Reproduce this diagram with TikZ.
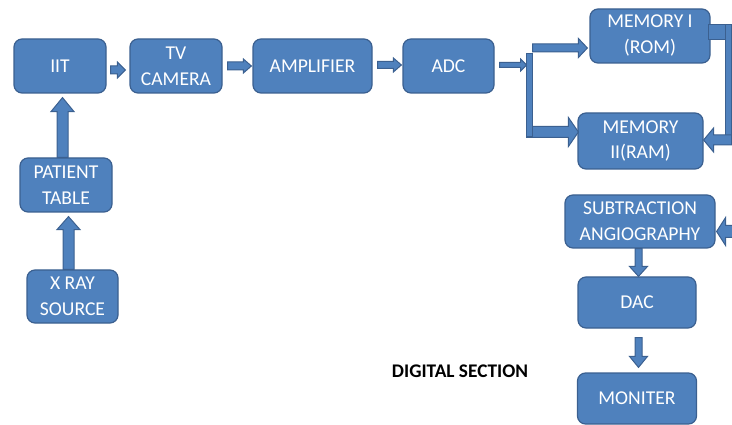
\documentclass[tikz,border=0pt]{standalone}
\usepackage{fontspec}
\setmainfont{Carlito}
\usetikzlibrary{calc}
\definecolor{boxfill}{HTML}{4F81BD}
\definecolor{boxline}{HTML}{3B6090}
\tikzset{
  box/.style={draw=boxline, fill=boxfill, line width=1.2pt, rounded corners=8pt,
    text=white, align=center, inner sep=0pt, font=\fontsize{19.6}{26}\selectfont},
  barrow/.style={draw=boxline, fill=boxfill, line width=1pt, line join=miter},
  caption/.style={font=\bfseries\fontsize{19.3}{22}\selectfont, text=black}
}
% block arrow: #1 tail, #2 tip, #3 half shaft width, #4 half head width, #5 head length
\newcommand\blockarrow[5]{%
  \coordinate (ba-base) at ($(#2)!#5!(#1)$);
  \filldraw[barrow] ($(#1)!#3!90:(#2)$) -- ($(ba-base)!#3!90:(#2)$)
    -- ($(ba-base)!#4!90:(#2)$) -- (#2) -- ($(ba-base)!#4!-90:(#2)$)
    -- ($(ba-base)!#3!-90:(#2)$) -- ($(#1)!#3!-90:(#2)$) -- cycle;
}
\begin{document}
\begin{tikzpicture}[x=1pt, y=-1pt]
\useasboundingbox (0,0) rectangle (732,425);

% blocks
\node[box, minimum width=92pt,  minimum height=54pt] (iit)  at (60,66)      {IIT};
\node[box, minimum width=92pt,  minimum height=54pt] (tv)   at (176,66)     {TV\\CAMERA};
\node[box, minimum width=119pt, minimum height=54pt] (amp)  at (312.5,66)   {AMPLIFIER};
\node[box, minimum width=91pt,  minimum height=54pt] (adc)  at (448.5,66)   {ADC};
\node[box, minimum width=120pt, minimum height=54pt] (mem1) at (650,36)     {MEMORY I\\(ROM)};
\node[box, minimum width=125pt, minimum height=56pt] (mem2) at (640.5,141)  {MEMORY\\II(RAM)};
\node[box, minimum width=150pt, minimum height=53pt] (sub)  at (640,221.5)  {SUBTRACTION\\ANGIOGRAPHY};
\node[box, minimum width=118pt, minimum height=51pt] (dac)  at (637,302.5)  {DAC};
\node[box, minimum width=119pt, minimum height=51pt] (mon)  at (637,398.5)  {MONITER};
\node[box, minimum width=92pt,  minimum height=54pt] (pt)   at (66,185)     {PATIENT\\TABLE};
\node[box, minimum width=91pt,  minimum height=53pt] (xray) at (72.5,296.5) {X RAY\\SOURCE};

\node[caption] (digital) at (460,371) {DIGITAL SECTION};

% anchor points of the connectors
\coordinate (a1s) at ($(iit.east)+(4,4)$);
\coordinate (a1e) at ($(tv.west)+(-4,4)$);
\coordinate (a2s) at ($(tv.east)+(5,0)$);
\coordinate (a2e) at ($(amp.west)+(-1,0)$);
\coordinate (a3s) at ($(amp.east)+(5,-1)$);
\coordinate (a3e) at ($(adc.west)+(-1,-1)$);
\coordinate (a4s) at ($(adc.east)+(5,-1)$);
\coordinate (fork) at ($(adc.east)+(35,-1)$);
\coordinate (a4e) at ($(fork)+(-3,0)$);
\coordinate (a5s) at ($(fork)+(3,-17)$);
\coordinate (a5e) at ($(mem1.west)+(-2,12)$);
\coordinate (a6s) at ($(fork)+(-3,67)$);
\coordinate (a6e) at ($(mem2.west)+(1,-9)$);
\coordinate (a7s) at ($(mem2.east)+(28,-1)$);
\coordinate (a7e) at ($(mem2.east)+(0,-1)$);
\coordinate (a8s) at ($(sub.east)+(20,10)$);
\coordinate (a8e) at ($(sub.east)+(1,10)$);
\coordinate (a9s) at ($(sub.south)+(-1.5,0)$);
\coordinate (a9e) at ($(dac.north)+(1.5,0)$);
\coordinate (a10s) at ($(dac.south)+(1.5,9)$);
\coordinate (a10e) at ($(mon.north)+(1.5,-5)$);
\coordinate (a11s) at ($(xray.north)+(-4,0)$);
\coordinate (a11e) at ($(pt.south)+(2.5,4)$);
\coordinate (a12s) at ($(pt.north)+(-3.5,0)$);
\coordinate (a12e) at ($(iit.south)+(2.5,4)$);

% analog chain
\blockarrow{a1s}{a1e}{4pt}{8pt}{8pt}
\blockarrow{a2s}{a2e}{4pt}{7pt}{8pt}
\blockarrow{a3s}{a3e}{3.5pt}{7pt}{8pt}
\blockarrow{a11s}{a11e}{5.5pt}{11.5pt}{13pt}
\blockarrow{a12s}{a12e}{5.5pt}{11.5pt}{14pt}

% fork from the ADC to the two memories
\blockarrow{a4s}{a4e}{2.5pt}{6pt}{6pt}
\blockarrow{a6s}{a6e}{5.5pt}{14.5pt}{10pt}
\filldraw[barrow] ($(fork)+(-3,-11)$) rectangle ($(fork)+(3,72)$);
\blockarrow{a5s}{a5e}{4pt}{9.5pt}{9pt}

% loop from memory I back into memory II
\filldraw[barrow] ($(mem1.east)+(-2,-11)$) rectangle ($(mem1.east)+(18,4)$);
\filldraw[barrow] ($(mem1.east)+(15,-11)$) rectangle ($(mem2.east)+(28,4)$);
\blockarrow{a7s}{a7e}{5pt}{12pt}{10pt}

% display chain
\blockarrow{a8s}{a8e}{6pt}{14pt}{9pt}
\blockarrow{a9s}{a9e}{3.5pt}{9pt}{10pt}
\blockarrow{a10s}{a10e}{3.5pt}{9pt}{11pt}
\end{tikzpicture}
\end{document}
